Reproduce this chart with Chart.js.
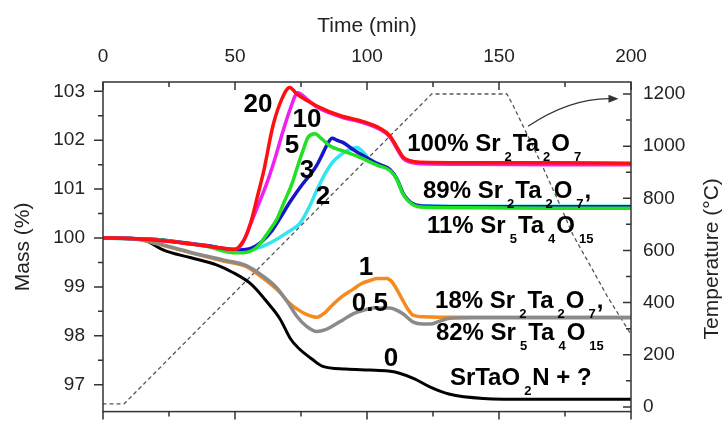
<!DOCTYPE html>
<html>
<head>
<meta charset="utf-8">
<script src="https://cdn.jsdelivr.net/npm/chart.js@4.4.1/dist/chart.umd.min.js"></script>
<style>
  html, body { margin: 0; padding: 0; background: #fff; overflow: hidden; }
  canvas { display: block; }
</style>
</head>
<body>
<canvas id="myChart" width="722" height="441"></canvas>
<script>
// Tick labels
const timeTicks = [0, 50, 100, 150, 200];
const massTicks = [97, 98, 99, 100, 101, 102, 103];
const tempTicks = [0, 200, 400, 600, 800, 1000, 1200];

// Curve "20" (red)
const tRed = [0, 10, 20, 30, 40, 50, 52, 54.5, 56.4, 58.5, 61, 64.4, 67.8, 70.7, 73.5, 81, 90, 98.5, 105, 108.7, 111.4, 113.6, 116.3, 120, 140, 170, 200];
const mRed = [100, 99.99, 99.96, 99.9, 99.83, 99.77, 99.85, 100.08, 100.4, 100.85, 101.4, 102.3, 102.85, 103.08, 102.94, 102.7, 102.5, 102.38, 102.24, 102.09, 101.85, 101.66, 101.58, 101.55, 101.54, 101.54, 101.53];

// Curve "10" (magenta)
const tMag = [0, 10, 20, 30, 40, 50, 52.7, 55.7, 59, 62, 65, 68, 70.8, 73.8, 77, 81, 90, 98.5, 105, 108.7, 111.4, 113.6, 116.3, 120, 140, 170, 200];
const mMag = [100, 99.99, 99.96, 99.9, 99.83, 99.77, 99.88, 100.26, 100.7, 101.11, 101.6, 102.15, 102.62, 102.97, 102.85, 102.68, 102.48, 102.36, 102.22, 102.06, 101.82, 101.63, 101.55, 101.52, 101.51, 101.5, 101.5];

// Curve "5" (green)
const tGreen = [0, 10, 20, 30, 40, 49, 53, 58, 63, 66, 68.5, 71.6, 73.5, 75.5, 77.7, 80.3, 83, 86, 91, 96, 103.8, 108.7, 111.4, 113.6, 117.4, 122, 140, 170, 200];
const mGreen = [100, 99.99, 99.97, 99.9, 99.82, 99.7, 99.7, 99.8, 100.15, 100.4, 100.72, 101.11, 101.43, 101.75, 102.06, 102.13, 102.02, 101.88, 101.78, 101.68, 101.49, 101.38, 101.19, 100.9, 100.68, 100.63, 100.62, 100.61, 100.61];

// Curve "3" (blue)
const tBlue = [0, 10, 20, 30, 40, 50, 55.7, 60, 64, 67, 71, 75.4, 79, 81, 83, 84.8, 86.8, 88.5, 91, 95, 100, 104, 108.7, 111.4, 113.6, 117.4, 122, 140, 170, 200];
const mBlue = [100, 99.99, 99.97, 99.91, 99.84, 99.75, 99.78, 99.92, 100.15, 100.4, 100.75, 101.09, 101.33, 101.49, 101.7, 101.9, 102.04, 102.0, 101.95, 101.8, 101.64, 101.52, 101.4, 101.2, 100.92, 100.7, 100.65, 100.64, 100.64, 100.64];

// Curve "2" (cyan)
const tCyan = [0, 10, 20, 30, 40, 50, 55, 60, 65, 70, 74.6, 78, 81.2, 84, 87, 90, 93, 96.2, 98.5, 101, 104, 108.7, 111.4, 113.6, 117.4, 122, 140, 170, 200];
const mCyan = [100, 99.99, 99.97, 99.91, 99.84, 99.76, 99.76, 99.82, 99.95, 100.12, 100.3, 100.62, 101.0, 101.3, 101.55, 101.7, 101.8, 101.85, 101.76, 101.6, 101.5, 101.39, 101.2, 100.92, 100.7, 100.66, 100.65, 100.65, 100.65];

// Curve "1" (orange)
const tOrange = [0, 10, 15, 20.5, 33, 45.5, 54.5, 60.6, 66, 70.8, 73.4, 77, 81, 84, 87.1, 90.5, 94.7, 98, 101.1, 104, 107.5, 109.5, 111.4, 113.3, 115.2, 117.5, 121, 127.7, 140, 170, 200];
const mOrange = [100, 99.99, 99.96, 99.88, 99.7, 99.53, 99.41, 99.18, 98.94, 98.66, 98.55, 98.44, 98.38, 98.47, 98.64, 98.8, 98.95, 99.07, 99.13, 99.17, 99.17, 99.1, 98.94, 98.75, 98.57, 98.42, 98.39, 98.38, 98.38, 98.38, 98.38];

// Curve "0.5" (grey)
const tGray = [0, 10, 15, 20.5, 33, 45.5, 54.5, 60.6, 66, 70, 73.4, 77, 81, 84, 87, 91, 94.7, 98.5, 102.3, 108.7, 111, 113.6, 117.5, 121, 124, 127.5, 131.4, 140, 170, 200];
const mGray = [100, 99.99, 99.96, 99.89, 99.71, 99.55, 99.43, 99.22, 98.97, 98.68, 98.4, 98.2, 98.09, 98.12, 98.2, 98.33, 98.45, 98.52, 98.57, 98.57, 98.53, 98.45, 98.28, 98.24, 98.24, 98.3, 98.36, 98.37, 98.37, 98.37];

// Curve "0" (black)
const tBlack = [0, 8, 15, 18, 23, 33, 43, 49, 56, 62, 67, 71, 74, 79.5, 83, 92, 101, 108, 112, 118, 124, 131, 144, 163, 185, 200];
const mBlack = [100, 100, 99.97, 99.9, 99.75, 99.6, 99.45, 99.3, 99.06, 98.7, 98.35, 97.94, 97.75, 97.51, 97.38, 97.32, 97.3, 97.28, 97.24, 97.12, 96.95, 96.81, 96.72, 96.7, 96.7, 96.7];

// Temperature programme (dashed)
const tTemp = [0, 8, 124.5, 153, 155.3, 158.7, 165.5, 171.9, 178, 184.5, 190.9, 200];
const temp = [12, 12, 1200, 1200, 1157, 1086, 944, 802, 660, 543, 426, 278];

// Annotations (data coordinates)
const curveNotes = [
  { text: '20', x: 58.7, y: 102.72 },
  { text: '10', x: 77.3, y: 102.42 },
  { text: '5', x: 71.6, y: 101.89 },
  { text: '3', x: 77.3, y: 101.38 },
  { text: '2', x: 83.3, y: 100.85 },
  { text: '1', x: 99.6, y: 99.4 },
  { text: '0.5', x: 101.1, y: 98.66 },
  { text: '0', x: 109.1, y: 97.53 }
];
const phaseNotes = [
  { text: '100% Sr_2Ta_2O_7', x: 115.2, y: 101.77 },
  { text: '89% Sr_2Ta_2O_7,', x: 121.2, y: 100.81 },
  { text: '11% Sr_5Ta_4O_15', x: 122.7, y: 100.11 },
  { text: '18% Sr_2Ta_2O_7,', x: 125.8, y: 98.57 },
  { text: '82% Sr_5Ta_4O_15', x: 126.1, y: 97.91 },
  { text: 'SrTaO_2N + ?', x: 131.4, y: 97.0 }
];

const font = 'Arial, "Liberation Sans", Helvetica, sans-serif';
const ink = '#222';

function pts(t, v) {
  return t.map((x, i) => ({ x: x, y: v[i] }));
}

function line(t, v, color, width) {
  return { data: pts(t, v), borderColor: color, borderWidth: width, yAxisID: 'y' };
}

// first dataset is drawn on top
const datasets = [
  line(tRed, mRed, '#ff1010', 3.5),
  line(tMag, mMag, '#f020f0', 3.5),
  line(tGreen, mGreen, '#22e022', 3.5),
  line(tBlue, mBlue, '#1616c8', 3.5),
  line(tCyan, mCyan, '#34e4f0', 3.5),
  line(tGray, mGray, '#8a8a8a', 3.5),
  line(tOrange, mOrange, '#f58a1f', 3.5),
  line(tBlack, mBlack, '#000000', 3),
  {
    data: pts(tTemp, temp),
    borderColor: '#555',
    borderWidth: 1.3,
    borderDash: [3, 4],
    tension: 0,
    cubicInterpolationMode: 'default',
    yAxisID: 'y2'
  }
];

// frame, ticks, labels, arrow
const decor = {
  id: 'decor',
  afterDatasetsDraw(chart) {
    const { ctx, chartArea: a, scales } = chart;
    const sx = scales.x, sy = scales.y, st = scales.y2;
    ctx.save();
    ctx.strokeStyle = '#333';
    ctx.lineWidth = 1.5;
    ctx.strokeRect(a.left, a.top, a.right - a.left, a.bottom - a.top);

    ctx.beginPath();
    for (let v = 0; v <= 200; v += 25) {
      const px = sx.getPixelForValue(v);
      const len = v % 50 === 0 ? 8 : 5;
      ctx.moveTo(px, a.top); ctx.lineTo(px, a.top + len);
      ctx.moveTo(px, a.bottom); ctx.lineTo(px, a.bottom + len);
    }
    for (let i = 0; i <= 12; i++) {
      const v = 97 + i * 0.5;
      const py = sy.getPixelForValue(v);
      const len = i % 2 === 0 ? 9 : 5;
      ctx.moveTo(a.left, py); ctx.lineTo(a.left - len, py);
    }
    for (let v = 0; v <= 1200; v += 100) {
      const py = st.getPixelForValue(v);
      const len = v % 200 === 0 ? 8 : 5;
      ctx.moveTo(a.right, py); ctx.lineTo(a.right - len, py);
    }
    ctx.stroke();

    // arrow pointing to the temperature axis
    const x0 = sx.getPixelForValue(161), y0 = st.getPixelForValue(1076);
    const xc = sx.getPixelForValue(177), yc = st.getPixelForValue(1184);
    const x1 = sx.getPixelForValue(194.5), y1 = st.getPixelForValue(1182);
    ctx.lineWidth = 1.3;
    ctx.beginPath();
    ctx.moveTo(x0, y0);
    ctx.quadraticCurveTo(xc, yc, x1 - 6, y1);
    ctx.stroke();
    ctx.fillStyle = '#333';
    ctx.beginPath();
    ctx.moveTo(x1 + 2, y1);
    ctx.lineTo(x1 - 8, y1 - 4);
    ctx.lineTo(x1 - 8, y1 + 4);
    ctx.closePath();
    ctx.fill();

    // curve numbers
    ctx.fillStyle = '#000';
    ctx.textAlign = 'center';
    ctx.textBaseline = 'middle';
    ctx.font = 'bold 26px ' + font;
    curveNotes.forEach(n => {
      ctx.fillText(n.text, sx.getPixelForValue(n.x), sy.getPixelForValue(n.y));
    });

    // phase labels with subscripts
    ctx.textAlign = 'left';
    ctx.textBaseline = 'alphabetic';
    phaseNotes.forEach(n => {
      let x = sx.getPixelForValue(n.x);
      const y = sy.getPixelForValue(n.y);
      n.text.split(/_(\d+)/).forEach((part, i) => {
        if (!part) return;
        if (i % 2 === 0) {
          ctx.font = 'bold 24px ' + font;
          ctx.fillText(part, x, y);
          x += ctx.measureText(part).width;
        } else {
          ctx.font = 'bold 13px ' + font;
          x += 4;
          ctx.fillText(part, x, y + 10);
          x += ctx.measureText(part).width + 1;
        }
      });
    });

    // right axis title, read bottom to top
    ctx.fillStyle = ink;
    ctx.font = '21px ' + font;
    ctx.textAlign = 'center';
    ctx.textBaseline = 'middle';
    ctx.translate(st.right - 10, (a.top + a.bottom) / 2 + 12);
    ctx.rotate(-Math.PI / 2);
    ctx.fillText('Temperature (\u00B0C)', 0, 0);
    ctx.restore();
  }
};

const ctx = document.getElementById('myChart').getContext('2d');
const plain = v => String(v);

const myChart = new Chart(ctx, {
  type: 'line',
  data: { datasets: datasets },
  options: {
    responsive: false,
    animation: false,
    devicePixelRatio: 1,
    layout: { padding: { left: 0, right: 0, top: 0, bottom: 3 } },
    elements: {
      point: { radius: 0 },
      line: { cubicInterpolationMode: 'monotone', borderCapStyle: 'round', borderJoinStyle: 'round' }
    },
    plugins: { legend: { display: false }, tooltip: { enabled: false } },
    scales: {
      x: {
        type: 'linear',
        position: 'top',
        min: 0,
        max: 200,
        afterBuildTicks: s => { s.ticks = timeTicks.map(v => ({ value: v })); },
        afterFit: s => { s.height = 82; },
        grid: { display: false, drawTicks: false },
        border: { display: false },
        ticks: { font: { family: font, size: 19 }, color: ink, padding: 14, maxRotation: 0, autoSkip: false, callback: plain },
        title: { display: true, text: 'Time (min)', font: { family: font, size: 21 }, color: ink, padding: { top: 14, bottom: 0 } }
      },
      y: {
        position: 'left',
        min: 96.45,
        max: 103.19,
        afterBuildTicks: s => { s.ticks = massTicks.map(v => ({ value: v })); },
        afterFit: s => { s.width = 103; },
        grid: { display: false, drawTicks: false },
        border: { display: false },
        ticks: { font: { family: font, size: 19 }, color: ink, padding: 18, callback: plain },
        title: { display: true, text: 'Mass (%)', font: { family: font, size: 21 }, color: ink, padding: { top: 11, bottom: 0 } }
      },
      y2: {
        position: 'right',
        min: -18,
        max: 1246,
        afterBuildTicks: s => { s.ticks = tempTicks.map(v => ({ value: v })); },
        afterFit: s => { s.width = 91; },
        grid: { display: false, drawTicks: false },
        border: { display: false },
        ticks: { font: { family: font, size: 19 }, color: ink, padding: 12, callback: plain }
      }
    }
  },
  plugins: [decor]
});
</script>
</body>
</html>
